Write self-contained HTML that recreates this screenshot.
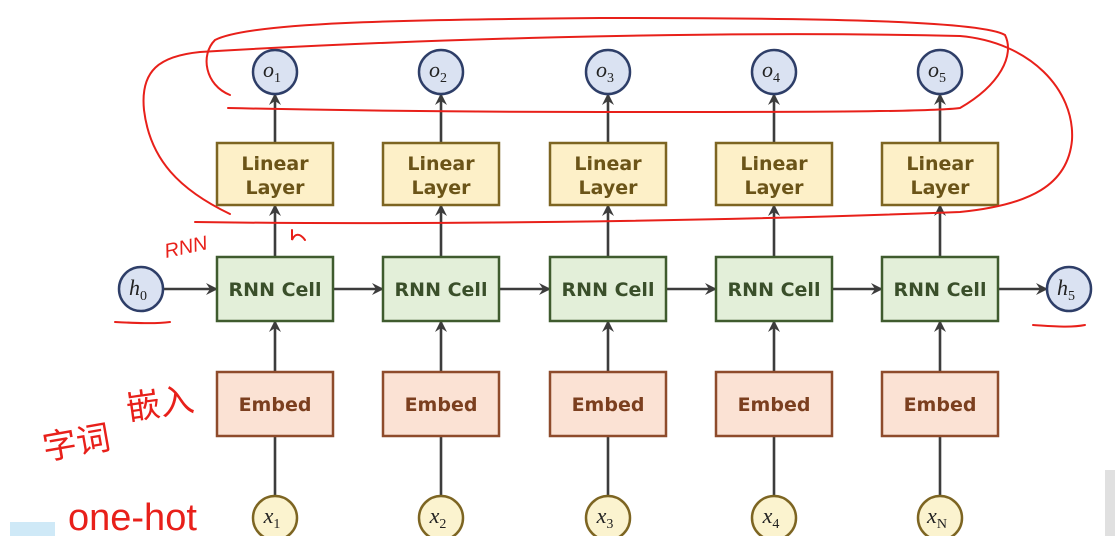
<!DOCTYPE html>
<html><head><meta charset="utf-8"><style>
html,body{margin:0;padding:0;background:#fff;width:1115px;height:536px;overflow:hidden}
svg{display:block}
.bt{font-family:"DejaVu Sans","Liberation Sans",sans-serif;font-weight:bold;font-size:19px;text-anchor:middle}
.mt{font-family:"Liberation Serif",serif;font-style:italic;font-size:22px;text-anchor:middle}
.sub{font-style:normal;font-size:14px}
.hw{font-family:"Liberation Sans","Noto Sans CJK SC",sans-serif;fill:#e8201a}
</style></head><body>
<svg width="1115" height="536" viewBox="0 0 1115 536" xmlns="http://www.w3.org/2000/svg">
<defs>
<marker id="a" markerWidth="12" markerHeight="12" refX="11" refY="6" orient="auto" markerUnits="userSpaceOnUse">
<path d="M0,0 L12,6 L0,12 L4,6 z" fill="#3c3c3c"/></marker>
</defs>
<g stroke="#3c3c3c" stroke-width="2.6" fill="none" marker-end="url(#a)">
<line x1="275" y1="496" x2="275" y2="372"/>
<line x1="441" y1="496" x2="441" y2="372"/>
<line x1="608" y1="496" x2="608" y2="372"/>
<line x1="774" y1="496" x2="774" y2="372"/>
<line x1="940" y1="496" x2="940" y2="372"/>
<line x1="275" y1="372" x2="275" y2="321"/>
<line x1="441" y1="372" x2="441" y2="321"/>
<line x1="608" y1="372" x2="608" y2="321"/>
<line x1="774" y1="372" x2="774" y2="321"/>
<line x1="940" y1="372" x2="940" y2="321"/>
<line x1="275" y1="257" x2="275" y2="205"/>
<line x1="441" y1="257" x2="441" y2="205"/>
<line x1="608" y1="257" x2="608" y2="205"/>
<line x1="774" y1="257" x2="774" y2="205"/>
<line x1="940" y1="257" x2="940" y2="205"/>
<line x1="275" y1="143" x2="275" y2="94"/>
<line x1="441" y1="143" x2="441" y2="94"/>
<line x1="608" y1="143" x2="608" y2="94"/>
<line x1="774" y1="143" x2="774" y2="94"/>
<line x1="940" y1="143" x2="940" y2="94"/>
<line x1="163" y1="289" x2="217" y2="289"/>
<line x1="333" y1="289" x2="383" y2="289"/>
<line x1="499" y1="289" x2="550" y2="289"/>
<line x1="666" y1="289" x2="716" y2="289"/>
<line x1="832" y1="289" x2="882" y2="289"/>
<line x1="998" y1="289" x2="1047" y2="289"/>
</g>
<g stroke-width="2.5">
<g fill="#fdf0c8" stroke="#7d6522">
<rect x="217" y="143" width="116" height="62"/><rect x="383" y="143" width="116" height="62"/><rect x="550" y="143" width="116" height="62"/><rect x="716" y="143" width="116" height="62"/><rect x="882" y="143" width="116" height="62"/>
</g>
<g fill="#e3efd9" stroke="#3f5b2e">
<rect x="217" y="257" width="116" height="64"/><rect x="383" y="257" width="116" height="64"/><rect x="550" y="257" width="116" height="64"/><rect x="716" y="257" width="116" height="64"/><rect x="882" y="257" width="116" height="64"/>
</g>
<g fill="#fbe2d4" stroke="#8e4b2b">
<rect x="217" y="372" width="116" height="64"/><rect x="383" y="372" width="116" height="64"/><rect x="550" y="372" width="116" height="64"/><rect x="716" y="372" width="116" height="64"/><rect x="882" y="372" width="116" height="64"/>
</g>
<g fill="#dae2f2" stroke="#2e3e68">
<circle cx="275" cy="72" r="22"/><circle cx="441" cy="72" r="22"/><circle cx="608" cy="72" r="22"/><circle cx="774" cy="72" r="22"/><circle cx="940" cy="72" r="22"/>
<circle cx="141" cy="289" r="22"/><circle cx="1069" cy="289" r="22"/>
</g>
<g fill="#fbf3cf" stroke="#7d6522">
<circle cx="275" cy="518" r="22"/><circle cx="441" cy="518" r="22"/><circle cx="608" cy="518" r="22"/><circle cx="774" cy="518" r="22"/><circle cx="940" cy="518" r="22"/>
</g>
</g>
<g class="bt" fill="#6b5418">
<text x="275" y="170">Linear</text><text x="275" y="194">Layer</text>
<text x="441" y="170">Linear</text><text x="441" y="194">Layer</text>
<text x="608" y="170">Linear</text><text x="608" y="194">Layer</text>
<text x="774" y="170">Linear</text><text x="774" y="194">Layer</text>
<text x="940" y="170">Linear</text><text x="940" y="194">Layer</text>
</g>
<g class="bt" fill="#3a4f2a">
<text x="275" y="296">RNN Cell</text><text x="441" y="296">RNN Cell</text><text x="608" y="296">RNN Cell</text><text x="774" y="296">RNN Cell</text><text x="940" y="296">RNN Cell</text>
</g>
<g class="bt" fill="#7b3f1f">
<text x="275" y="411">Embed</text><text x="441" y="411">Embed</text><text x="608" y="411">Embed</text><text x="774" y="411">Embed</text><text x="940" y="411">Embed</text>
</g>
<g class="mt" fill="#222">
<text x="272" y="77">o<tspan class="sub" dy="5">1</tspan></text>
<text x="438" y="77">o<tspan class="sub" dy="5">2</tspan></text>
<text x="605" y="77">o<tspan class="sub" dy="5">3</tspan></text>
<text x="771" y="77">o<tspan class="sub" dy="5">4</tspan></text>
<text x="937" y="77">o<tspan class="sub" dy="5">5</tspan></text>
<text x="138" y="295">h<tspan class="sub" dy="5">0</tspan></text>
<text x="1066" y="295">h<tspan class="sub" dy="5">5</tspan></text>
<text x="272" y="523">x<tspan class="sub" dy="5">1</tspan></text>
<text x="438" y="523">x<tspan class="sub" dy="5">2</tspan></text>
<text x="605" y="523">x<tspan class="sub" dy="5">3</tspan></text>
<text x="771" y="523">x<tspan class="sub" dy="5">4</tspan></text>
<text x="937" y="523">x<tspan class="sub" dy="5">N</tspan></text>
</g>
<g stroke="#e8201a" stroke-width="2" fill="none" stroke-linecap="round">
<path d="M230,214 C180,190 150,160 144,110 C140,70 160,56 200,52 C400,40 700,30 960,36 C1030,42 1075,90 1072,140 C1068,185 1030,205 960,212 C700,222 400,225 195,222"/>
<path d="M230,95 C205,85 200,55 215,40 C250,22 400,20 600,18 C800,18 980,20 1005,35 C1015,55 1000,85 960,108 C930,112 800,112 600,112 C450,112 320,110 228,108"/>
<path d="M115,322 C135,323 155,324 170,322"/>
<path d="M1033,325 C1050,326 1070,328 1085,325"/>
<path d="M292,230 L292,240 C295,233 300,233 305,240"/>
</g>
<text class="hw" x="166" y="258" font-size="20" font-style="italic" transform="rotate(-12 166 258)">RNN</text>
<text class="hw" x="45" y="460" font-size="34" transform="rotate(-10 45 460)">字词</text>
<text class="hw" x="128" y="420" font-size="34" transform="rotate(-8 128 420)">嵌入</text>
<text class="hw" x="68" y="530" font-size="38">one-hot</text>
<rect x="10" y="522" width="45" height="14" fill="#cfe9f7"/>
<rect x="1105" y="470" width="10" height="66" fill="#e0e0e0"/>
</svg>
</body></html>
